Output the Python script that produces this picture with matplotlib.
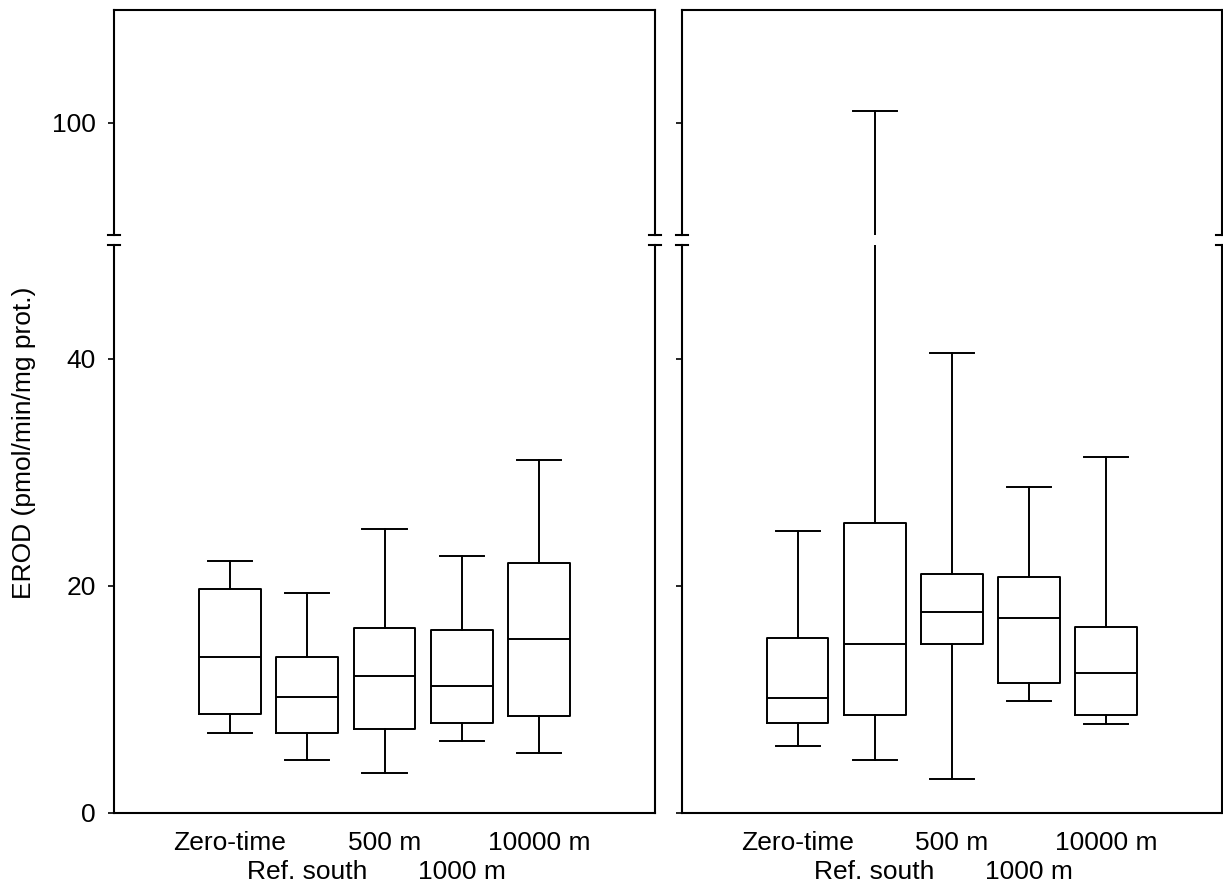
import matplotlib
matplotlib.use("Agg")
import matplotlib.pyplot as plt
import matplotlib.transforms as mtransforms

plt.rcParams['font.family'] = ['Liberation Sans', 'DejaVu Sans']

categories = ["Zero-time", "Ref. south", "500 m", "1000 m", "10000 m"]

# Left panel
whislo_L = [7.0, 4.7, 3.5, 6.3, 5.3]
q1_L = [8.7, 7.0, 7.4, 7.9, 8.5]
med_L = [13.7, 10.2, 12.1, 11.2, 15.3]
q3_L = [19.7, 13.7, 16.3, 16.1, 22.0]
whishi_L = [22.2, 19.4, 25.0, 22.6, 31.1]

# Right panel
whislo_R = [5.9, 4.7, 3.0, 9.9, 7.8]
q1_R = [7.9, 8.6, 14.9, 11.4, 8.6]
med_R = [10.1, 14.9, 17.7, 17.2, 12.3]
q3_R = [15.4, 25.5, 21.0, 20.8, 16.4]
whishi_R = [24.8, 101.0, 40.5, 28.7, 31.3]

lower_ticks = [0, 20, 40]
upper_ticks = [100]

W, H = 1223, 886
fig = plt.figure(figsize=(W / 100, H / 100), dpi=100)

def fx(px):
    return px / W

def fy(py):
    return 1 - py / H

FS = 19
LW = 1.4

def make_stats(lo, q1, med, q3, hi):
    return [dict(whislo=a, q1=b, med=c, q3=d, whishi=e, fliers=[])
            for a, b, c, d, e in zip(lo, q1, med, q3, hi)]

panels = [
    (114, 655, make_stats(whislo_L, q1_L, med_L, q3_L, whishi_L), True),
    (682, 1221.5, make_stats(whislo_R, q1_R, med_R, q3_R, whishi_R), False),
]

top_px, ubot_px, ltop_px, bot_px = 10, 235, 245, 813
positions = list(range(1, len(categories) + 1))

for x0, x1, stats, show_labels in panels:
    ax_up = fig.add_axes([fx(x0), fy(ubot_px), fx(x1) - fx(x0), fy(top_px) - fy(ubot_px)])
    ax_lo = fig.add_axes([fx(x0), fy(bot_px), fx(x1) - fx(x0), fy(ltop_px) - fy(bot_px)])
    for ax in (ax_up, ax_lo):
        ax.bxp(stats, positions=positions, widths=0.8, capwidths=0.57,
               showfliers=False, patch_artist=False,
               boxprops=dict(color='black', linewidth=LW),
               whiskerprops=dict(color='black', linewidth=LW),
               capprops=dict(color='black', linewidth=LW),
               medianprops=dict(color='black', linewidth=LW))
        ax.set_xlim(-0.5, 6.5)
        for s in ax.spines.values():
            s.set_linewidth(1.5)
        ax.tick_params(axis='y', direction='out', length=4.3, width=1.2,
                       labelsize=FS, pad=9, left=True, right=False)
    ax_up.set_ylim(90, 110)
    ax_lo.set_ylim(0, 50)
    ax_up.spines['bottom'].set_visible(False)
    ax_lo.spines['top'].set_visible(False)
    ax_up.set_yticks(upper_ticks)
    ax_lo.set_yticks(lower_ticks)
    ax_up.set_xticks([])
    ax_lo.set_xticks(positions)
    ax_lo.set_xticklabels([''] * len(positions))
    ax_lo.tick_params(axis='x', length=0)
    # staggered category labels (two rows)
    for i, (pos, lab) in enumerate(zip(positions, categories)):
        dy = -30 / 100 if i % 2 == 0 else -59 / 100
        tr = ax_lo.get_xaxis_transform() + mtransforms.ScaledTranslation(0, dy, fig.dpi_scale_trans)
        ax_lo.text(pos, 0, lab, transform=tr, ha='center', va='center',
                   fontsize=FS, clip_on=False)
    if not show_labels:
        ax_up.set_yticklabels([])
        ax_lo.set_yticklabels([])
    # break marks
    d = 6 / (x1 - x0)
    for xs in (0, 1):
        ax_up.plot([xs - d, xs + d], [0, 0], transform=ax_up.transAxes,
                   color='black', lw=1.5, clip_on=False)
        ax_lo.plot([xs - d, xs + d], [1, 1], transform=ax_lo.transAxes,
                   color='black', lw=1.5, clip_on=False)

fig.text(fx(24), 0.5, "EROD (pmol/min/mg prot.)", rotation=90,
         ha='center', va='center', fontsize=FS)

fig.savefig("out.png", dpi=100)
